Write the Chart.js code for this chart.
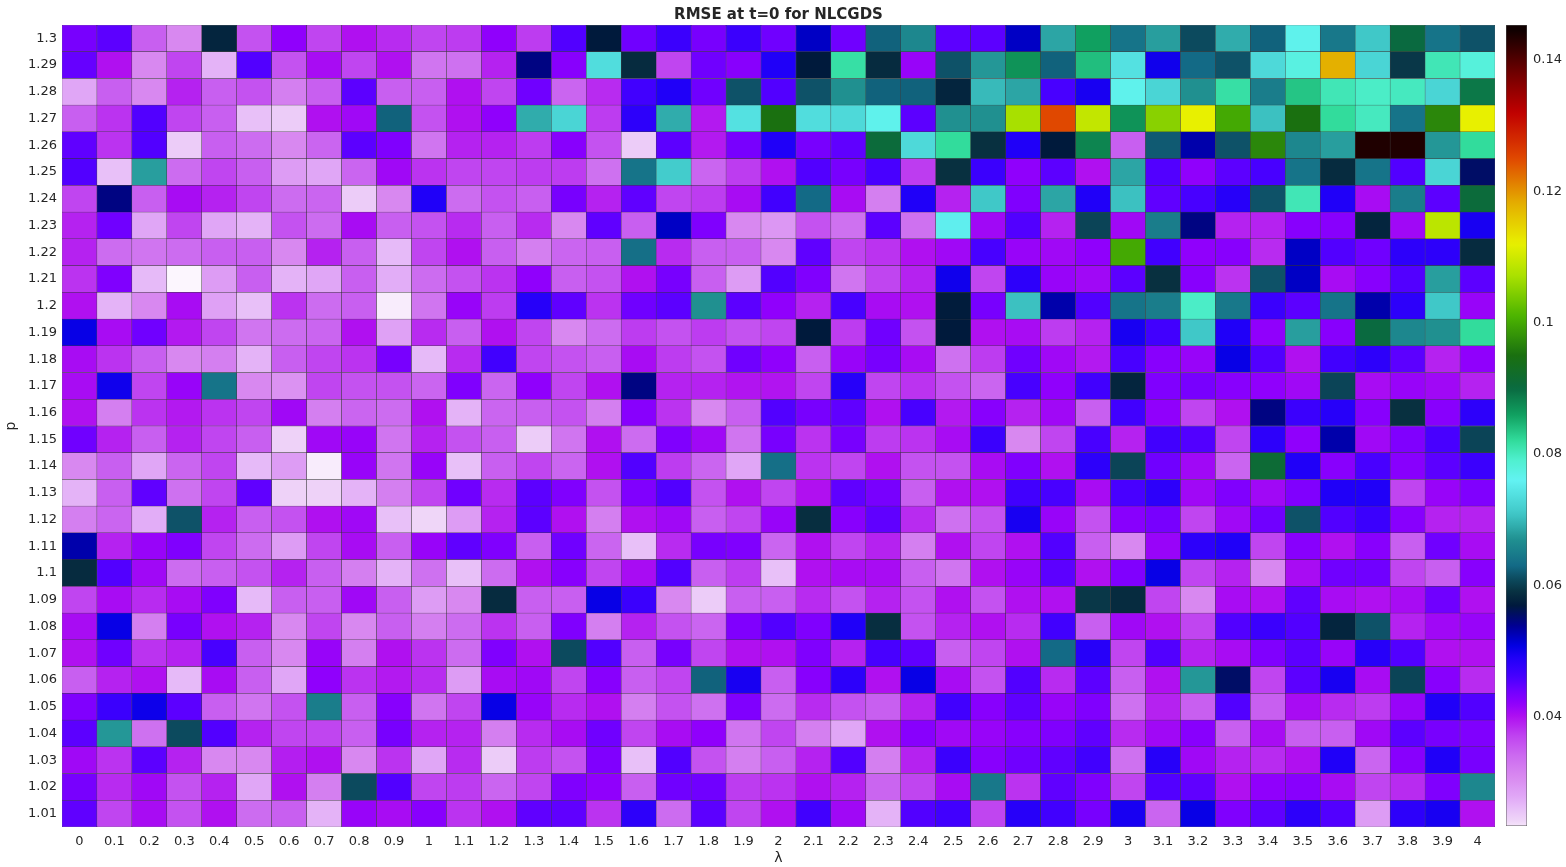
<!DOCTYPE html>
<html lang="en">
<head>
<meta charset="UTF-8">
<title>RMSE at t=0 for NLCGDS</title>
<script src="https://cdn.jsdelivr.net/npm/chart.js"></script>
<style>
    html, body { margin: 0; padding: 0; background: #fff; }
    #wrap { position: relative; width: 1566px; height: 867px; }
    #main { position: absolute; left: 0; top: 0; width: 1566px; height: 867px; }
    #cbar { position: absolute; left: 1496px; top: 0; width: 70px; height: 867px; }
</style>
</head>
<body>
<div id="wrap">
    <div id="main"><canvas id="heatmap"></canvas></div>
    <div id="cbar"><canvas id="colorbar"></canvas></div>
</div>
<script>
// lambda (x) tick labels
const lambdaLabels = ['0','0.1','0.2','0.3','0.4','0.5','0.6','0.7','0.8','0.9','1','1.1','1.2','1.3','1.4','1.5','1.6','1.7','1.8','1.9','2',
    '2.1','2.2','2.3','2.4','2.5','2.6','2.7','2.8','2.9','3','3.1','3.2','3.3','3.4','3.5','3.6','3.7','3.8','3.9','4'];

// p (y) tick labels, top row first
const pLabels = ['1.3','1.29','1.28','1.27','1.26','1.25','1.24','1.23','1.22','1.21','1.2','1.19','1.18','1.17','1.16',
    '1.15','1.14','1.13','1.12','1.11','1.1','1.09','1.08','1.07','1.06','1.05','1.04','1.03','1.02','1.01'];

// RMSE values, one row per p (same order as pLabels), one column per lambda
const rmseRows = [
    [0.0435,0.045,0.035,0.031,0.058,0.036,0.042,0.037, 0.040,0.0385,0.037,0.0375,0.042,0.0375,0.0455,0.057, 0.044,0.047,0.0435,0.047,0.044,0.052,0.044,0.0625, 0.066,0.045,0.045,0.052,0.0685,0.086,0.064,0.068, 0.061,0.069,0.0625,0.0765,0.0645,0.071,0.090,0.064,0.0615],
    [0.0445,0.040,0.031,0.037,0.027,0.0455,0.036,0.0405, 0.037,0.040,0.033,0.0335,0.039,0.0545,0.0425,0.0735, 0.0585,0.037,0.044,0.0425,0.049,0.057,0.0815,0.0585, 0.0415,0.0615,0.0675,0.087,0.0625,0.084,0.074,0.050, 0.063,0.0615,0.073,0.0775,0.118,0.0725,0.0595,0.0805,0.078],
    [0.028,0.035,0.031,0.039,0.035,0.036,0.032,0.035, 0.045,0.035,0.035,0.040,0.037,0.044,0.0345,0.0385, 0.0465,0.049,0.044,0.0615,0.0455,0.0615,0.067,0.0625, 0.0625,0.058,0.070,0.0685,0.046,0.0495,0.0765,0.0725, 0.067,0.0815,0.065,0.0835,0.0805,0.0795,0.080,0.0725,0.089],
    [0.035,0.038,0.0455,0.037,0.035,0.026,0.025,0.040, 0.041,0.0625,0.036,0.040,0.042,0.069,0.0725,0.0375, 0.048,0.069,0.0395,0.074,0.095,0.0735,0.073,0.0765, 0.045,0.067,0.067,0.107,0.125,0.109,0.087,0.105, 0.112,0.100,0.0705,0.095,0.082,0.080,0.064,0.097,0.112],
    [0.0448,0.038,0.0455,0.025,0.035,0.034,0.031,0.0345, 0.045,0.043,0.033,0.039,0.039,0.0375,0.0425,0.036, 0.025,0.045,0.0395,0.0435,0.049,0.0435,0.0448,0.0905, 0.073,0.082,0.059,0.049,0.057,0.088,0.035,0.062, 0.053,0.0615,0.097,0.066,0.068,0.1435,0.1435,0.0675,0.082],
    [0.0455,0.026,0.068,0.034,0.037,0.035,0.029,0.028, 0.0345,0.041,0.038,0.037,0.037,0.0375,0.0375,0.0335, 0.064,0.0715,0.0345,0.0375,0.040,0.0455,0.0435,0.046, 0.0375,0.059,0.047,0.042,0.045,0.040,0.0685,0.0455, 0.042,0.045,0.046,0.064,0.0585,0.064,0.0455,0.0725,0.0555],
    [0.037,0.0545,0.035,0.0405,0.039,0.037,0.034,0.0345, 0.025,0.031,0.049,0.034,0.036,0.035,0.0435,0.039, 0.0448,0.037,0.0375,0.0405,0.0465,0.063,0.0405,0.032, 0.049,0.039,0.071,0.043,0.0685,0.049,0.0705,0.0448, 0.046,0.0485,0.0615,0.0805,0.049,0.0405,0.065,0.045,0.0905],
    [0.039,0.044,0.028,0.037,0.028,0.027,0.036,0.034, 0.0405,0.035,0.036,0.0385,0.035,0.0385,0.031,0.0448, 0.035,0.052,0.043,0.031,0.0295,0.036,0.0335,0.045, 0.0335,0.0755,0.041,0.0455,0.039,0.0605,0.041,0.065, 0.0545,0.039,0.039,0.0425,0.0425,0.058,0.041,0.1085,0.0495],
    [0.039,0.034,0.033,0.034,0.035,0.035,0.031,0.039, 0.035,0.0265,0.037,0.040,0.035,0.032,0.0345,0.035, 0.0635,0.0385,0.035,0.035,0.031,0.0448,0.037,0.038, 0.040,0.041,0.046,0.0415,0.041,0.042,0.100,0.0465, 0.042,0.0425,0.0385,0.052,0.0455,0.044,0.048,0.048,0.0585],
    [0.038,0.043,0.0265,0.021,0.029,0.035,0.027,0.028, 0.035,0.0275,0.034,0.036,0.038,0.042,0.035,0.036, 0.040,0.0435,0.035,0.029,0.0455,0.043,0.033,0.037, 0.039,0.050,0.037,0.048,0.0415,0.041,0.045,0.059, 0.0425,0.038,0.0615,0.052,0.0405,0.0425,0.0455,0.068,0.045],
    [0.040,0.027,0.031,0.0405,0.0285,0.026,0.038,0.034, 0.035,0.023,0.033,0.0415,0.0375,0.0485,0.0448,0.038, 0.044,0.045,0.067,0.045,0.042,0.039,0.046,0.0405, 0.040,0.0572,0.0435,0.0705,0.053,0.0455,0.064,0.065, 0.0795,0.0645,0.047,0.045,0.064,0.053,0.048,0.071,0.0415],
    [0.0505,0.0405,0.044,0.0395,0.037,0.033,0.034,0.0345, 0.040,0.0285,0.0385,0.035,0.040,0.037,0.031,0.034, 0.0375,0.036,0.0375,0.036,0.037,0.057,0.0375,0.044, 0.036,0.057,0.040,0.0405,0.0375,0.039,0.0495,0.0465, 0.071,0.049,0.042,0.068,0.0425,0.090,0.066,0.067,0.082],
    [0.0405,0.038,0.035,0.031,0.032,0.027,0.035,0.037, 0.038,0.0435,0.0265,0.0385,0.0465,0.037,0.036,0.035, 0.0405,0.0375,0.036,0.044,0.042,0.035,0.0415,0.0435, 0.0405,0.0335,0.0375,0.044,0.041,0.0395,0.046,0.0425, 0.0415,0.0505,0.0455,0.040,0.0465,0.048,0.045,0.039,0.042],
    [0.0405,0.050,0.037,0.0415,0.064,0.031,0.030,0.037, 0.036,0.036,0.0345,0.043,0.0345,0.042,0.037,0.040, 0.0545,0.039,0.039,0.0398,0.0398,0.037,0.0485,0.037, 0.038,0.036,0.0345,0.046,0.042,0.0465,0.058,0.043, 0.0435,0.0425,0.042,0.041,0.0605,0.0405,0.0415,0.041,0.039],
    [0.040,0.032,0.038,0.0395,0.038,0.037,0.041,0.032, 0.0345,0.034,0.040,0.027,0.0345,0.035,0.036,0.032, 0.0425,0.038,0.031,0.035,0.0455,0.0435,0.0448,0.040, 0.046,0.0395,0.0425,0.039,0.041,0.035,0.0465,0.042, 0.037,0.040,0.0545,0.047,0.0485,0.0425,0.059,0.0425,0.048],
    [0.044,0.039,0.035,0.039,0.037,0.035,0.0245,0.041, 0.0415,0.033,0.039,0.036,0.035,0.025,0.033,0.040, 0.034,0.043,0.041,0.033,0.0435,0.038,0.0435,0.0375, 0.038,0.0405,0.047,0.031,0.037,0.046,0.039,0.0465, 0.0455,0.037,0.048,0.042,0.053,0.041,0.043,0.046,0.0605],
    [0.031,0.035,0.028,0.0345,0.037,0.0265,0.029,0.023, 0.0415,0.033,0.0415,0.026,0.035,0.037,0.0345,0.040, 0.0455,0.0375,0.0345,0.028,0.0635,0.038,0.037,0.040, 0.036,0.036,0.0405,0.043,0.040,0.048,0.0605,0.044, 0.041,0.0345,0.091,0.049,0.0425,0.046,0.0425,0.045,0.047],
    [0.027,0.035,0.0448,0.0335,0.037,0.0448,0.0245,0.0245, 0.027,0.032,0.037,0.044,0.0385,0.045,0.043,0.036, 0.043,0.0455,0.036,0.040,0.037,0.040,0.0448,0.0435, 0.035,0.040,0.040,0.0465,0.046,0.0405,0.046,0.048, 0.041,0.043,0.041,0.043,0.049,0.049,0.037,0.0415,0.043],
    [0.032,0.0345,0.0275,0.0615,0.039,0.035,0.036,0.040, 0.041,0.026,0.0242,0.029,0.039,0.045,0.040,0.032, 0.040,0.041,0.035,0.037,0.0415,0.0588,0.0425,0.0448, 0.0385,0.0335,0.036,0.0495,0.0415,0.036,0.0425,0.0435, 0.037,0.041,0.044,0.0615,0.0455,0.047,0.0425,0.039,0.039],
    [0.053,0.039,0.0415,0.043,0.037,0.034,0.029,0.037, 0.0405,0.035,0.0415,0.0448,0.043,0.035,0.044,0.0345, 0.026,0.0385,0.0435,0.043,0.0345,0.040,0.037,0.039, 0.032,0.040,0.037,0.040,0.0455,0.035,0.031,0.0415, 0.048,0.049,0.037,0.0425,0.040,0.0425,0.035,0.044,0.0405],
    [0.0585,0.0455,0.041,0.034,0.035,0.036,0.039,0.035, 0.032,0.027,0.0335,0.026,0.034,0.040,0.0425,0.037, 0.0405,0.0455,0.035,0.0375,0.026,0.040,0.0405,0.0405, 0.035,0.033,0.040,0.0415,0.045,0.040,0.043,0.0505, 0.037,0.039,0.031,0.0405,0.044,0.044,0.037,0.035,0.0425],
    [0.037,0.0405,0.0385,0.0405,0.043,0.0265,0.035,0.035, 0.041,0.035,0.029,0.031,0.0585,0.035,0.035,0.0505, 0.047,0.031,0.025,0.035,0.035,0.0385,0.036,0.039, 0.036,0.040,0.036,0.040,0.040,0.0595,0.0585,0.037, 0.031,0.0405,0.040,0.0448,0.0405,0.040,0.0405,0.044,0.040],
    [0.0405,0.0505,0.032,0.0435,0.040,0.039,0.031,0.037, 0.031,0.035,0.032,0.034,0.038,0.035,0.043,0.032, 0.039,0.036,0.0345,0.043,0.0455,0.043,0.049,0.0588, 0.036,0.039,0.040,0.0385,0.0465,0.035,0.041,0.040, 0.037,0.0455,0.047,0.0455,0.058,0.0615,0.039,0.041,0.0415],
    [0.040,0.044,0.038,0.039,0.046,0.035,0.031,0.0415, 0.032,0.040,0.038,0.034,0.043,0.040,0.061,0.0455, 0.035,0.0435,0.037,0.040,0.040,0.043,0.039,0.046, 0.0448,0.035,0.037,0.040,0.063,0.0485,0.037,0.0455, 0.039,0.0405,0.043,0.045,0.0415,0.0485,0.0455,0.040,0.040],
    [0.035,0.039,0.040,0.0265,0.0405,0.035,0.028,0.042, 0.038,0.0395,0.0385,0.029,0.0405,0.041,0.037,0.0425, 0.035,0.037,0.0625,0.0495,0.035,0.0425,0.048,0.040, 0.0505,0.0405,0.036,0.0455,0.0385,0.045,0.035,0.040, 0.0675,0.0555,0.037,0.045,0.0495,0.0405,0.0605,0.0425,0.0385],
    [0.043,0.047,0.0502,0.045,0.035,0.033,0.036,0.065, 0.035,0.0425,0.033,0.037,0.0505,0.0415,0.0385,0.040, 0.032,0.036,0.0335,0.043,0.034,0.0385,0.036,0.035, 0.039,0.0465,0.0425,0.0448,0.0415,0.043,0.0335,0.039, 0.035,0.0455,0.035,0.0405,0.0385,0.0375,0.0415,0.049,0.0455],
    [0.045,0.0675,0.0335,0.061,0.0455,0.039,0.037,0.037, 0.035,0.0435,0.039,0.039,0.032,0.0385,0.0405,0.044, 0.037,0.0405,0.042,0.033,0.037,0.032,0.028,0.040, 0.0425,0.041,0.0415,0.0425,0.043,0.0448,0.0385,0.041, 0.0425,0.035,0.0405,0.035,0.035,0.041,0.045,0.0435,0.043],
    [0.041,0.038,0.045,0.039,0.031,0.031,0.0392,0.040, 0.031,0.038,0.028,0.0385,0.025,0.0375,0.036,0.043, 0.026,0.0455,0.036,0.032,0.035,0.039,0.0455,0.032, 0.039,0.047,0.0425,0.044,0.0448,0.0465,0.0335,0.0485, 0.041,0.039,0.0385,0.040,0.049,0.0345,0.0425,0.049,0.0435],
    [0.0435,0.0385,0.041,0.036,0.039,0.028,0.040,0.032, 0.061,0.0455,0.037,0.0375,0.0345,0.037,0.043,0.042, 0.035,0.044,0.044,0.0375,0.038,0.040,0.039,0.0345, 0.037,0.0405,0.0645,0.038,0.0448,0.043,0.037,0.0455, 0.0448,0.040,0.042,0.0425,0.0405,0.037,0.0385,0.043,0.066],
    [0.0448,0.037,0.0405,0.036,0.040,0.034,0.035,0.027, 0.0415,0.0405,0.0425,0.038,0.040,0.0448,0.0448,0.038, 0.048,0.034,0.045,0.037,0.040,0.0465,0.041,0.027, 0.0455,0.0465,0.037,0.0485,0.0465,0.0435,0.0495,0.0345, 0.0505,0.043,0.0448,0.048,0.0455,0.029,0.048,0.0495,0.040]
];

// colorbar ticks and limits
const cbarTicks = [0.04, 0.06, 0.08, 0.1, 0.12, 0.14];
const VMIN = 0.0234;
const VMAX = 0.1453;

// colormap: white -> magenta -> blue -> dark -> cyan -> green -> yellow -> red -> black
const cmapStops = [
    [0.0225, '#fcf6fe'], [0.024, '#f0d8f8'], [0.026, '#e8c0f8'], [0.028, '#e0a6f6'], [0.031, '#d888f0'],
    [0.034, '#cc6cf0'], [0.037, '#c045f0'], [0.040, '#b010f0'], [0.042, '#9000fc'], [0.044, '#7000ff'],
    [0.046, '#4800ff'], [0.049, '#2000f8'], [0.051, '#0000e0'], [0.054, '#000090'], [0.057, '#001a3c'],
    [0.059, '#083040'], [0.061, '#0c4a5e'], [0.063, '#136a86'], [0.067, '#209090'], [0.071, '#40c8c8'],
    [0.076, '#62f2f2'], [0.079, '#50f0d0'], [0.082, '#32dc9c'], [0.086, '#10a060'], [0.090, '#0a6a40'],
    [0.095, '#1a7010'], [0.101, '#4cb400'], [0.107, '#a8e000'], [0.112, '#e8f000'], [0.118, '#e4b000'],
    [0.125, '#e04800'], [0.132, '#c00000'], [0.138, '#700000'], [0.1445, '#100000']
];

function hexToRgb(h) {
    return [parseInt(h.slice(1, 3), 16), parseInt(h.slice(3, 5), 16), parseInt(h.slice(5, 7), 16)];
}
const stopsRgb = cmapStops.map(([v, c]) => [v, hexToRgb(c)]);

function colorFor(v) {
    if (v <= stopsRgb[0][0]) return cmapStops[0][1];
    for (let i = 1; i < stopsRgb.length; i++) {
        if (v <= stopsRgb[i][0]) {
            const [v0, c0] = stopsRgb[i - 1];
            const [v1, c1] = stopsRgb[i];
            const t = (v - v0) / (v1 - v0);
            const c = c0.map((a, k) => Math.round(a + (c1[k] - a) * t));
            return 'rgb(' + c.join(',') + ')';
        }
    }
    return cmapStops[cmapStops.length - 1][1];
}

Chart.defaults.font.family = '"DejaVu Sans", "Liberation Sans", sans-serif';
Chart.defaults.color = '#262626';

// one stacked dataset per p row, bottom row first
const nRows = pLabels.length;
const datasets = [];
for (let k = 0; k < nRows; k++) {
    const row = rmseRows[nRows - 1 - k];
    datasets.push({
        label: pLabels[nRows - 1 - k],
        data: row.map(() => 1),
        backgroundColor: row.map(colorFor),
        borderColor: 'rgba(35,35,35,0.8)',
        borderWidth: 0.5,
        borderSkipped: false,
        barPercentage: 1,
        categoryPercentage: 1
    });
}

new Chart(document.getElementById('heatmap'), {
    type: 'bar',
    data: { labels: lambdaLabels, datasets: datasets },
    options: {
        responsive: true,
        maintainAspectRatio: false,
        animation: false,
        layout: { padding: { left: 0, right: 71, top: 0, bottom: 0 } },
        plugins: {
            legend: { display: false },
            tooltip: { enabled: false },
            title: {
                display: true,
                text: 'RMSE at t=0 for NLCGDS',
                fullSize: false,
                font: { size: 15, weight: 'bold' },
                color: '#262626',
                padding: { top: 6, bottom: 1 }
            }
        },
        scales: {
            x: {
                stacked: true,
                grid: { display: false, drawTicks: false },
                border: { display: false },
                ticks: { font: { size: 13 }, color: '#262626', padding: 7, maxRotation: 0, autoSkip: false },
                title: { display: true, text: 'λ', font: { size: 14 }, color: '#262626', padding: { top: 0, bottom: 0 } },
                afterFit: s => { s.height = 40; }
            },
            y: {
                stacked: true,
                min: 0,
                max: nRows,
                grid: { display: false, drawTicks: false },
                border: { display: false },
                afterBuildTicks: s => { s.ticks = pLabels.map((_, k) => ({ value: k + 0.5 })); },
                ticks: {
                    autoSkip: false,
                    font: { size: 13 },
                    color: '#262626',
                    padding: 5,
                    callback: v => pLabels[nRows - 1 - Math.floor(v)]
                },
                title: { display: true, text: 'p', font: { size: 14 }, color: '#262626', padding: { top: 3, bottom: 0 } },
                afterFit: s => { s.width = 62; }
            }
        }
    }
});

// colorbar: one floating bar from VMIN to VMAX filled with the colormap
function cbarGradient(chart) {
    const area = chart.chartArea;
    if (!area) return null;
    const y = chart.scales.y;
    const g = chart.ctx.createLinearGradient(0, y.getPixelForValue(VMIN), 0, y.getPixelForValue(VMAX));
    const n = 160;
    for (let i = 0; i <= n; i++) {
        g.addColorStop(i / n, colorFor(VMIN + (VMAX - VMIN) * i / n));
    }
    return g;
}

new Chart(document.getElementById('colorbar'), {
    type: 'bar',
    data: {
        labels: [''],
        datasets: [{
            data: [[VMIN, VMAX]],
            backgroundColor: ctx => cbarGradient(ctx.chart),
            borderColor: '#555',
            borderWidth: 0.8,
            borderSkipped: false,
            barPercentage: 1,
            categoryPercentage: 1
        }]
    },
    options: {
        responsive: true,
        maintainAspectRatio: false,
        animation: false,
        layout: { padding: { left: 10, top: 25, bottom: 41, right: 0 } },
        plugins: { legend: { display: false }, tooltip: { enabled: false } },
        scales: {
            x: { display: false },
            y: {
                position: 'right',
                min: VMIN,
                max: VMAX,
                grid: { display: false, drawTicks: false },
                border: { display: false },
                afterBuildTicks: s => { s.ticks = cbarTicks.map(v => ({ value: v })); },
                ticks: { font: { size: 13 }, color: '#262626', padding: 6, callback: v => String(v) },
                afterFit: s => { s.width = 39; }
            }
        }
    }
});
</script>
</body>
</html>
